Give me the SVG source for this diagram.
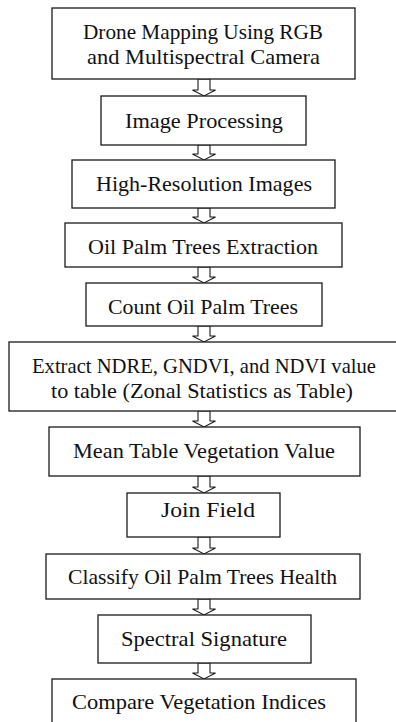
<svg xmlns="http://www.w3.org/2000/svg" width="396" height="722" viewBox="0 0 396 722">
<style>
.box{fill:#fff;stroke:#1a1a1a;stroke-width:1.3}
.arr{fill:#fff;stroke:#1a1a1a;stroke-width:1.1;stroke-linejoin:miter}
text{font-family:"Liberation Serif","DejaVu Serif",serif;font-size:22px;fill:#111}
</style>
<rect width="396" height="722" fill="#fff"/>
<g id="connectors">
<polygon class="arr" points="198,79 210,79 210,90 215.5,90 204,96 192.5,90 198,90"/>
<polygon class="arr" points="198,145 210,145 210,154 215.5,154 204,160 192.5,154 198,154"/>
<polygon class="arr" points="198,208 210,208 210,217 215.5,217 204,223 192.5,217 198,217"/>
<polygon class="arr" points="198,267 210,267 210,277 215.5,277 204,283 192.5,277 198,277"/>
<polygon class="arr" points="198,326 210,326 210,336 215.5,336 204,342 192.5,336 198,336"/>
<polygon class="arr" points="198,411 210,411 210,421 215.5,421 204,427 192.5,421 198,421"/>
<polygon class="arr" points="198,476 210,476 210,487 215.5,487 204,493 192.5,487 198,487"/>
<polygon class="arr" points="198,537 210,537 210,548 215.5,548 204,554 192.5,548 198,548"/>
<polygon class="arr" points="198,599 210,599 210,609 215.5,609 204,615 192.5,609 198,609"/>
<polygon class="arr" points="198,663 210,663 210,673 215.5,673 204,679 192.5,673 198,673"/>
</g>
<g id="n1"><rect class="box" x="52" y="8" width="303" height="71"/>
<text x="83" y="39" textLength="240" lengthAdjust="spacingAndGlyphs">Drone Mapping Using RGB</text>
<text x="87" y="64" textLength="233" lengthAdjust="spacingAndGlyphs">and Multispectral Camera</text></g>
<g id="n2"><rect class="box" x="101" y="96" width="205" height="49"/>
<text x="125" y="128" textLength="158" lengthAdjust="spacingAndGlyphs">Image Processing</text></g>
<g id="n3"><rect class="box" x="72" y="160" width="263" height="48"/>
<text x="96" y="191" textLength="216" lengthAdjust="spacingAndGlyphs">High-Resolution Images</text></g>
<g id="n4"><rect class="box" x="65" y="223" width="277" height="44"/>
<text x="88" y="254" textLength="230" lengthAdjust="spacingAndGlyphs">Oil Palm Trees Extraction</text></g>
<g id="n5"><rect class="box" x="86" y="283" width="236" height="43"/>
<text x="108" y="314" textLength="190" lengthAdjust="spacingAndGlyphs">Count Oil Palm Trees</text></g>
<g id="n6"><rect class="box" x="9" y="342" width="392" height="69"/>
<text x="32" y="373" textLength="344" lengthAdjust="spacingAndGlyphs">Extract NDRE, GNDVI, and NDVI value</text>
<text x="51" y="398" textLength="302" lengthAdjust="spacingAndGlyphs">to table (Zonal Statistics as Table)</text></g>
<g id="n7"><rect class="box" x="49" y="427" width="311" height="49"/>
<text x="73" y="458" textLength="262" lengthAdjust="spacingAndGlyphs">Mean Table Vegetation Value</text></g>
<g id="n8"><rect class="box" x="127" y="493" width="153" height="44"/>
<text x="161" y="517" textLength="94" lengthAdjust="spacingAndGlyphs">Join Field</text></g>
<g id="n9"><rect class="box" x="46" y="554" width="314" height="45"/>
<text x="68" y="584" textLength="269" lengthAdjust="spacingAndGlyphs">Classify Oil Palm Trees Health</text></g>
<g id="n10"><rect class="box" x="98" y="615" width="213" height="48"/>
<text x="121" y="646" textLength="166" lengthAdjust="spacingAndGlyphs">Spectral Signature</text></g>
<g id="n11"><rect class="box" x="52" y="679" width="304" height="48"/>
<text x="72" y="709" textLength="254" lengthAdjust="spacingAndGlyphs">Compare Vegetation Indices</text></g>
</svg>
